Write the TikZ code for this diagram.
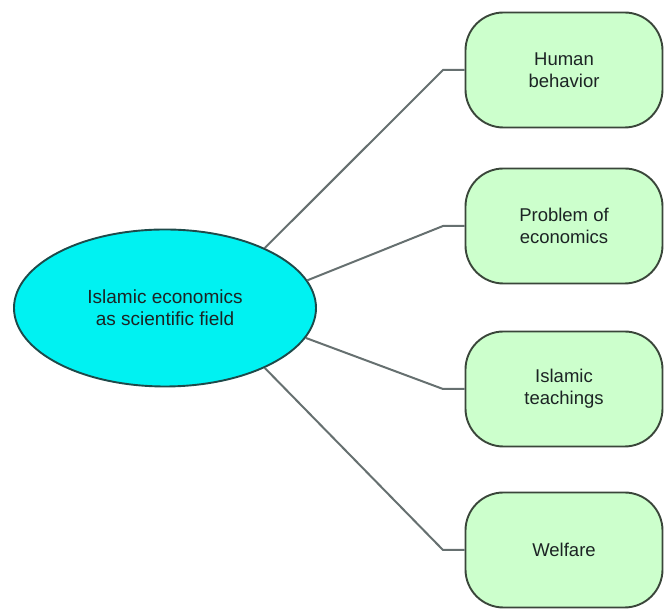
\documentclass[tikz,border=0pt]{standalone}
\usepackage{fontspec}
\setmainfont{Liberation Sans}
\usetikzlibrary{shapes.geometric}
\definecolor{ellfill}{HTML}{00F2F2}
\definecolor{ellline}{HTML}{1E4A4A}
\definecolor{boxfill}{HTML}{CCFFCC}
\definecolor{boxline}{HTML}{3A463A}
\definecolor{conn}{HTML}{667070}
\definecolor{txt}{HTML}{1C2424}
\tikzset{
  mainell/.style={ellipse, draw=ellline, fill=ellfill, line width=1.9pt,
    minimum width=302pt, minimum height=157pt, inner sep=0pt, align=center,
    text=txt, font=\fontsize{19}{22}\selectfont},
  leafbox/.style={rectangle, rounded corners=38pt, draw=boxline, fill=boxfill,
    line width=1.9pt, minimum width=197pt, minimum height=115pt, inner sep=0pt,
    align=center, text=txt, font=\fontsize{18.5}{22}\selectfont},
  link/.style={draw=conn, line width=2pt}
}
\begin{document}
\begin{tikzpicture}[x=1pt,y=1pt]
\useasboundingbox (0,0) rectangle (665,612);
\node[mainell] (e) at (165,304) {Islamic economics\\as scientific field};
\node[leafbox] (b1) at (564,542) {Human\\behavior};
\node[leafbox] (b2) at (564,386) {Problem of\\economics};
\node[leafbox] (b3) at (564,223) {Islamic\\teachings};
\node[leafbox] (b4) at (564,62) {Welfare};
\coordinate (k1) at (443,542);
\coordinate (k2) at (443,386);
\coordinate (k3) at (443,223);
\coordinate (k4) at (443,62);
\draw[link] (e.31.5) -- (k1) -- (b1.west);
\draw[link] (e.11.3) -- (k2) -- (b2.west);
\draw[link] (e.-12.5) -- (k3) -- (b3.west);
\draw[link] (e.-31.8) -- (k4) -- (b4.west);
\end{tikzpicture}
\end{document}
